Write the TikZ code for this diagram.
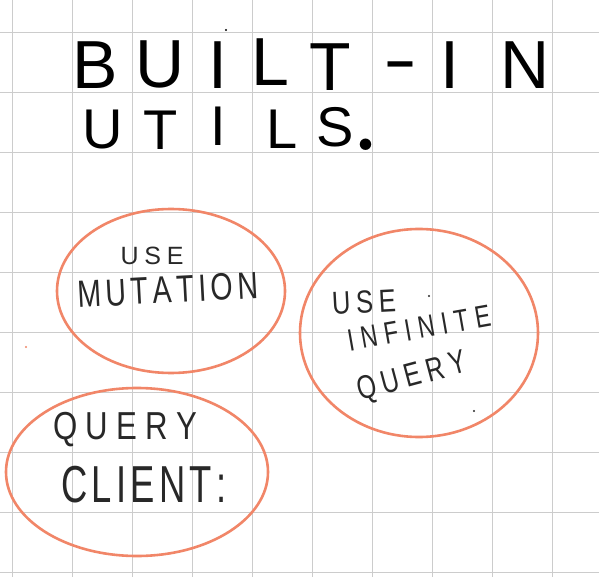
\documentclass[tikz,border=0pt]{standalone}
\usepackage{fontspec}
\newfontfamily\hand{Liberation Sans}
\usetikzlibrary{shapes.geometric}
\definecolor{gridc}{RGB}{204,204,204}
\definecolor{coral}{RGB}{241,134,104}
\definecolor{ink}{RGB}{40,40,40}
% #1 horizontal scale, #2 unscaled box width, #3 letters separated by \hfill
\newcommand{\hwline}[3]{\scalebox{#1}[1]{\makebox[#2pt]{#3}}}
\begin{document}
\begin{tikzpicture}[x=1pt,y=-1pt,
  gridline/.style={draw=gridc,line width=0.9pt},
  ring/.style={draw=coral,line width=2.6pt,ellipse,inner sep=0pt},
  bigletter/.style={inner sep=0pt,anchor=base,text=black,font=\hand\fontsize{68}{68}\selectfont},
  midletter/.style={inner sep=0pt,anchor=base,text=black,font=\hand\fontsize{56}{56}\selectfont},
  label/.style={inner sep=0pt,anchor=center,text=ink},
  speck/.style={inner sep=0pt,circle,minimum size=2.2pt}]
\useasboundingbox (0,0) rectangle (599,577);
\fill[white] (0,0) rectangle (599,577);
% grid paper
\foreach \i in {0,...,9}{
  \draw[gridline] (12.5+60*\i,0) -- (12.5+60*\i,577);
  \draw[gridline] (0,32+60*\i) -- (599,32+60*\i);
}
% title, row 1
\node[bigletter] (a1) at (95,89) {B};
\node[bigletter] (a2) at (160,88) {U};
\node[bigletter] (a3) at (218,89) {I};
\node[bigletter] (a4) at (270,86) {L};
\node[bigletter] (a5) at (330,91) {T};
\node[bigletter] (a6) at (400,83) {\scalebox{1.5}[1]{-}};
\node[bigletter] (a7) at (450,89) {I};
\node[bigletter] (a8) at (525,89) {N};
% title, row 2
\node[midletter] (b1) at (103,149) {U};
\node[midletter] (b2) at (161,150) {T};
\node[midletter] (b3) at (218,146) {I};
\node[midletter] (b4) at (282,149) {L};
\node[midletter] (b5) at (335,147) {S};
\node[inner sep=0pt,anchor=base,text=black,font=\rmfamily\bfseries\fontsize{80}{80}\selectfont] (b6) at (366,151) {.};
% ellipses
\node[ring,minimum width=228pt,minimum height=164pt] (e1) at (171,291) {};
\node[ring,minimum width=238pt,minimum height=208pt] (e2) at (419,333) {};
\node[ring,minimum width=262pt,minimum height=168pt] (e3) at (137,472) {};
% labels in ellipse 1
\node[label,font=\hand\fontsize{25}{25}\selectfont] (l1) at (152,256) {\hwline{1}{63}{U\hfill S\hfill E}};
\node[label,font=\hand\fontsize{38}{38}\selectfont,rotate=3] (l2) at (168,290) {\hwline{0.75}{240}{M\hfill U\hfill T\hfill A\hfill T\hfill I\hfill O\hfill N}};
% labels in ellipse 2
\node[label,font=\hand\fontsize{32}{32}\selectfont,rotate=3] (l3) at (364,302) {\hwline{0.8}{80}{U\hfill S\hfill E}};
\node[label,font=\hand\fontsize{31}{31}\selectfont,rotate=10] (l4) at (419,328) {\hwline{0.75}{193}{I\hfill N\hfill F\hfill I\hfill N\hfill I\hfill T\hfill E}};
\node[label,font=\hand\fontsize{33}{33}\selectfont,rotate=15] (l5) at (412,378) {\hwline{0.75}{149}{Q\hfill U\hfill E\hfill R\hfill Y}};
% labels in ellipse 3
\node[label,font=\hand\fontsize{39}{39}\selectfont] (l6) at (125,430) {\hwline{0.8}{180}{Q\hfill U\hfill E\hfill R\hfill Y}};
\node[label,font=\hand\fontsize{52}{52}\selectfont] (l7) at (144,485) {\hwline{0.7}{236}{C\hfill L\hfill I\hfill E\hfill N\hfill T\hfill :}};
% stray specks
\node[speck,fill=black] (s1) at (226,30) {};
\node[speck,fill=ink] (s2) at (429,296) {};
\node[speck,fill=ink] (s3) at (474,411) {};
\node[speck,fill=coral] (s4) at (26,347) {};
\end{tikzpicture}
\end{document}
